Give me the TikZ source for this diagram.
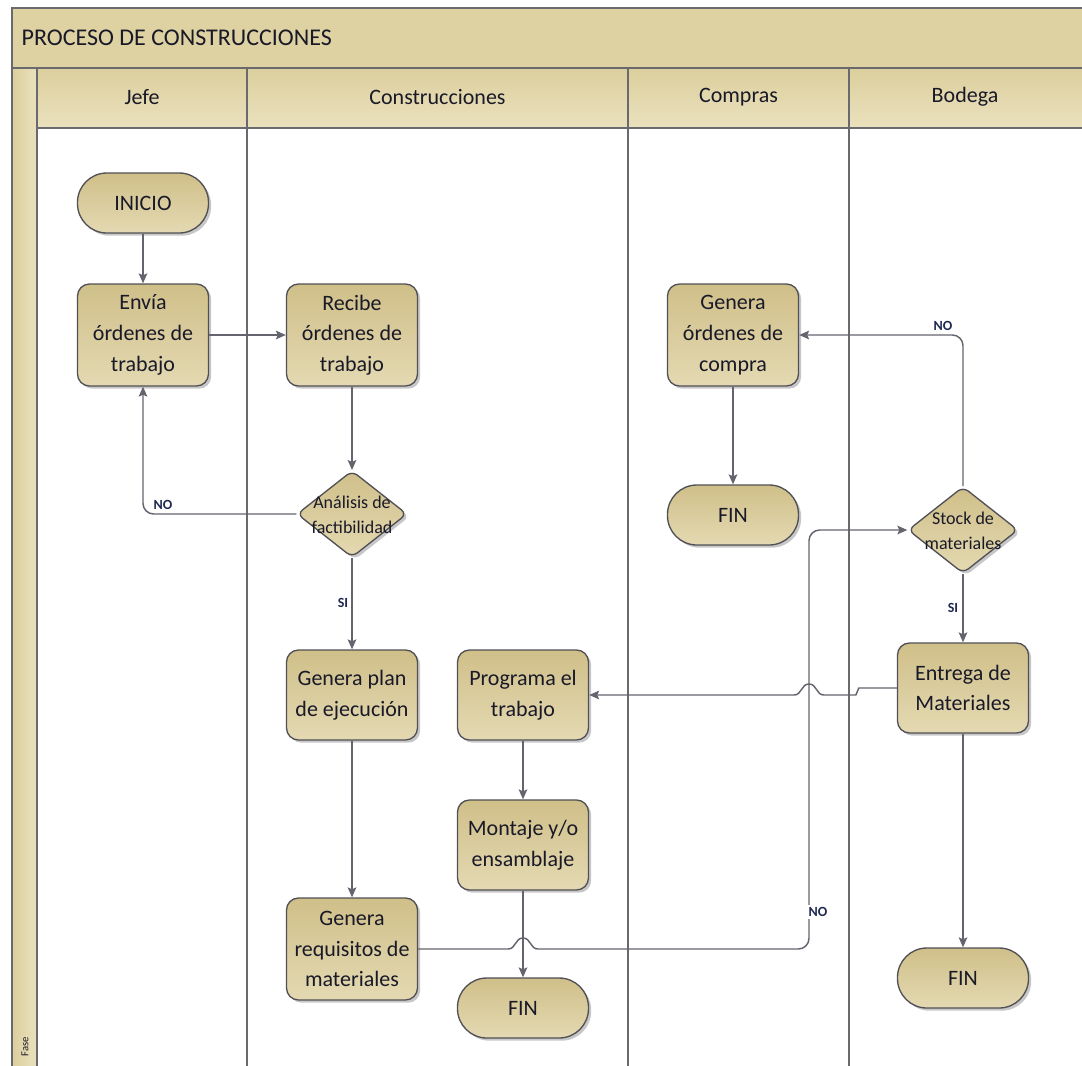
\documentclass[tikz,border=0pt]{standalone}
\usepackage{fontspec}
\setmainfont{Carlito}
\usetikzlibrary{shapes.geometric,shadows,calc,arrows.meta}

\definecolor{boxA}{RGB}{207,191,137}
\definecolor{boxB}{RGB}{228,217,178}
\definecolor{bandA}{RGB}{220,207,157}
\definecolor{bandB}{RGB}{234,225,190}
\definecolor{laneline}{RGB}{105,105,110}
\definecolor{edge}{RGB}{80,80,86}
\definecolor{wire}{RGB}{100,100,110}
\definecolor{ink}{RGB}{25,25,40}
\definecolor{tagink}{RGB}{30,40,80}

\newcommand\bxfont{\fontsize{16.5}{23}\selectfont}
\newcommand\ttlfont{\fontsize{18}{22}\selectfont}
\newcommand\dmfont{\fontsize{13.5}{18.5}\selectfont}
\newcommand\tgfont{\bfseries\fontsize{10.5}{12}\selectfont}

\begin{document}
\begin{tikzpicture}[x=0.75pt,y=-0.75pt,
  lane/.style={draw=laneline, line width=1.1pt},
  shade/.style={drop shadow={shadow xshift=2pt, shadow yshift=-2pt, opacity=0.22, fill=black}},
  proc/.style={rectangle, rounded corners=9pt, draw=edge, line width=1pt,
    top color=boxA, bottom color=boxB, minimum width=98.25pt, inner sep=0pt,
    align=center, text=ink, font=\bxfont, shade},
  tallbox/.style={proc, minimum height=76.5pt},
  shortbox/.style={proc, minimum height=67.5pt},
  term/.style={proc, rounded corners=22pt, minimum height=45pt},
  decision/.style={diamond, rounded corners=5pt, draw=edge, line width=1pt,
    top color=boxA, bottom color=boxB, minimum width=82.5pt, minimum height=65pt,
    inner sep=0pt, shade},
  dtext/.style={align=center, text=ink, font=\dmfont, inner sep=0pt},
  head/.style={text=ink, font=\bxfont},
  conn/.style={draw=wire, line width=1.1pt, -{Stealth[length=7.5pt,width=6.5pt,inset=1.5pt]}},
  tag/.style={text=tagink, font=\tgfont, inner sep=1.5pt}
]
\useasboundingbox (0,0) rectangle (1082,1065);
\clip (0,0) rectangle (1082,1065);
\fill[white] (0,0) rectangle (1082,1065);

% ---- swimlane frame ----
\draw[lane, fill=bandA!85!bandB] (12,8) rectangle (1100,68);
\node[anchor=west, text=ink, font=\ttlfont] (title) at (17,38) {PROCESO DE CONSTRUCCIONES};
\draw[lane, left color=bandA, right color=bandB] (12,68) rectangle (37,1090);
\draw[lane, top color=bandA, bottom color=bandB] (37,68) rectangle (1100,128);
\draw[lane] (37,128) -- (37,1090);
\draw[lane] (247,68) -- (247,1090);
\draw[lane] (628,68) -- (628,1090);
\draw[lane] (849,68) -- (849,1090);
\draw[lane] (12,8) -- (12,1090);

\node[head] (h-jefe) at (142,97) {Jefe};
\node[head] (h-constr) at (437.5,97) {Construcciones};
\node[head] (h-compras) at (738.5,97) {Compras};
\node[head] (h-bodega) at (965,97) {Bodega};
\node[rotate=90, text=ink, font=\fontsize{8}{9}\selectfont, inner sep=0pt] (fase) at (25,1047) {Fase};

% ---- Jefe ----
\node[term] (inicio) at (143,203) {INICIO};
\node[tallbox] (envia) at (143,335) {Envía\\órdenes de\\trabajo};

% ---- Construcciones ----
\node[tallbox] (recibe) at (352,335) {Recibe\\órdenes de\\trabajo};
\node[decision] (analisis) at (352,514) {};
\node[dtext] (analisis-t) at (352,515) {Análisis de\\factibilidad};
\node[shortbox] (plan) at (352,695) {Genera plan\\de ejecución};
\node[tallbox] (req) at (352,949) {Genera\\requisitos de\\materiales};
\node[shortbox] (prog) at (523,695) {Programa el\\trabajo};
\node[shortbox] (mont) at (523,845) {Montaje y/o\\ensamblaje};
\node[term] (fin1) at (523,1008) {FIN};

% ---- Compras ----
\node[tallbox] (compra) at (733,335) {Genera\\órdenes de\\compra};
\node[term] (fin2) at (733,515) {FIN};

% ---- Bodega ----
\node[decision] (stock) at (963,530) {};
\node[dtext] (stock-t) at (963,531) {Stock de\\materiales};
\node[shortbox] (entrega) at (963,688) {Entrega de\\Materiales};
\node[term] (fin3) at (963,978) {FIN};

% ---- connectors ----
\coordinate (nocol) at (809,800);

\draw[conn] (inicio) -- (envia);
\draw[conn] (envia) -- (recibe);
\draw[conn] (recibe) -- (analisis);
\draw[conn, rounded corners=8pt] (analisis.west) -| (envia.south);
\draw[conn] (analisis) -- (plan);
\draw[conn] (plan) -- (req);
\draw[conn] (prog) -- (mont);
\draw[conn] (mont) -- (fin1);
\draw[conn] (compra) -- (fin2);
\draw[conn, rounded corners=8pt] (stock.north) |- (compra.east);
\draw[conn] (stock) -- (entrega);
\draw[conn] (entrega) -- (fin3);

% requisitos -> stock, hopping over the Montaje -> FIN line
\coordinate (hop1) at (req.east -| mont.south);
\draw[conn] (req.east) -- ($(hop1)+(-15,0)$)
  .. controls +(8,0) and +(-8,0) .. ($(hop1)+(0,-11)$)
  .. controls +(8,0) and +(-8,0) .. ($(hop1)+(15,0)$)
  [rounded corners=8pt] -- (req.east -| nocol) -- (stock.west -| nocol) -- (stock.west);

% entrega -> programa, hopping over the returning NO line
\coordinate (step) at ($(entrega.west)+(-38,0)$);
\coordinate (hop2) at (prog.east -| nocol);
\draw[conn] (entrega.west) -- (step) -- ($(step |- prog.east)+(-3,0)$)
  -- ($(hop2)+(15,0)$)
  .. controls +(-8,0) and +(8,0) .. ($(hop2)+(0,-11)$)
  .. controls +(-8,0) and +(8,0) .. ($(hop2)+(-15,0)$)
  -- (prog.east);

% ---- branch labels ----
\node[tag, fill=white] (no1) at (163,505) {NO};
\node[tag] (si1) at (343,603) {SI};
\node[tag, fill=white] (no2) at (943,326) {NO};
\node[tag] (si2) at (953,608) {SI};
\node[tag, fill=white] (no3) at (818,912) {NO};
\end{tikzpicture}
\end{document}
